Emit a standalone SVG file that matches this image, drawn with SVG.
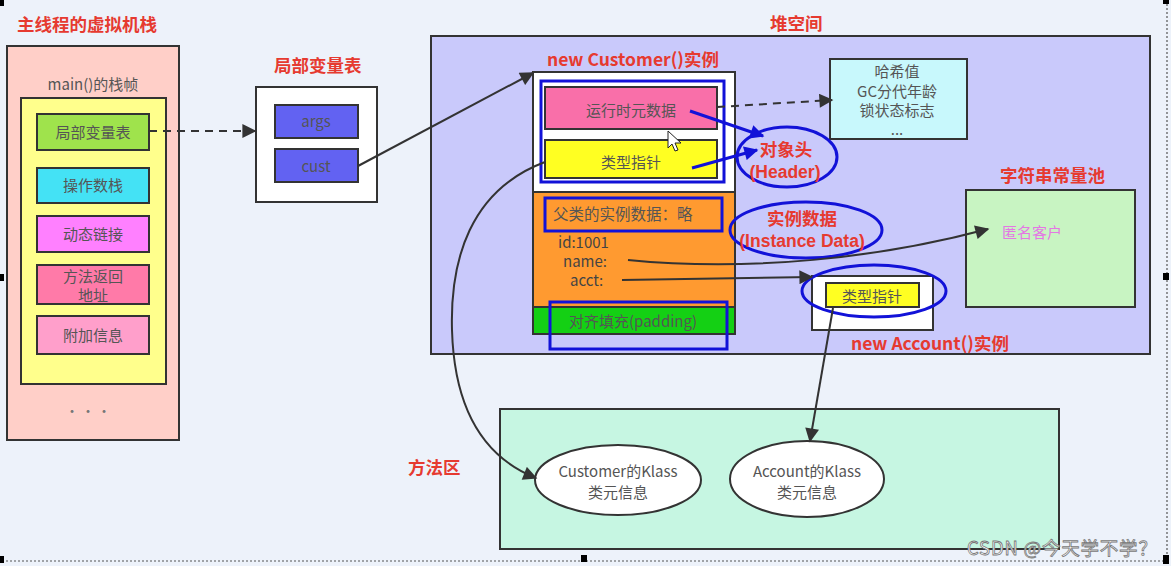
<svg xmlns="http://www.w3.org/2000/svg" width="1171" height="566" viewBox="0 0 1171 566">
<style>
text{font-family:"Noto Sans CJK SC","Noto Sans",sans-serif;}
.title{fill:#e63a30;font-weight:bold;font-size:17.5px;}
.lat{font-family:"Liberation Sans","Noto Sans CJK SC",sans-serif;}
.lbl{fill:#555;font-size:15px;text-anchor:middle;}
.box{stroke:#333;stroke-width:2;}
.blue{fill:none;stroke:#1212d8;stroke-width:3;}
.conn{fill:none;stroke:#333;stroke-width:2;}
.dash{stroke-dasharray:8 6;}
.bconn{fill:none;stroke:#1212d8;stroke-width:3;}
.hdl{fill:#000;}
</style>
<defs>
<marker id="ahl" viewBox="0 0 10 10" refX="9" refY="5" markerWidth="16" markerHeight="14" markerUnits="userSpaceOnUse" orient="auto">
<path d="M0,0 L10,5 L0,10 z" fill="#333"/>
</marker>
<marker id="bah" viewBox="0 0 10 10" refX="9" refY="5" markerWidth="16" markerHeight="14" markerUnits="userSpaceOnUse" orient="auto">
<path d="M0,0 L10,5 L0,10 z" fill="#1212d8"/>
</marker>
</defs>
<rect x="0" y="0" width="1171" height="566" fill="#edf2fa"/>

<!-- screenshot selection frame -->
<g id="frame">
<path d="M1167,0 V561 H0" fill="none" stroke="#555" stroke-width="1.2" stroke-dasharray="2 2"/>
<rect class="hdl" x="0" y="0" width="4" height="6"/>
<rect class="hdl" x="0" y="274" width="4" height="7"/>
<rect class="hdl" x="0" y="556" width="4" height="7"/>
<rect class="hdl" x="581" y="555" width="6" height="7"/>
<rect class="hdl" x="1163" y="555" width="6" height="9"/>
<rect class="hdl" x="1163" y="273" width="6" height="7"/>
<rect class="hdl" x="1163" y="0" width="6" height="4"/>
</g>

<!-- Stack -->
<g id="vm-stack">
<text class="title" x="17" y="31" font-size="18">主线程的虚拟机栈</text>
<rect class="box" x="7" y="46" width="172" height="394" fill="#ffcfc8"/>
<text class="lbl" x="93" y="90" font-size="14" fill="#666">main()的栈帧</text>
<rect class="box" x="21" y="98" width="145" height="286" fill="#ffff8c"/>
<text x="72" y="416" fill="#777" font-size="14" text-anchor="middle">·</text>
<text x="88" y="416" fill="#777" font-size="14" text-anchor="middle">·</text>
<text x="104" y="416" fill="#777" font-size="14" text-anchor="middle">·</text>
</g>
<g id="local-var-item">
<rect class="box" x="37" y="114" width="112" height="36" fill="#9fe34c"/>
<text class="lbl" x="93" y="138">局部变量表</text>
</g>
<g id="operand-stack">
<rect class="box" x="37" y="168" width="112" height="35" fill="#44e2f5"/>
<text class="lbl" x="93" y="191">操作数栈</text>
</g>
<g id="dynamic-link">
<rect class="box" x="37" y="216" width="112" height="36" fill="#ff80ff"/>
<text class="lbl" x="93" y="240">动态链接</text>
</g>
<g id="return-address">
<rect class="box" x="37" y="265" width="112" height="39" fill="#ff7aa8"/>
<text class="lbl" x="93" y="282" font-size="14.5">方法返回</text>
<text class="lbl" x="93" y="301" font-size="14.5">地址</text>
</g>
<g id="extra-info">
<rect class="box" x="37" y="316" width="112" height="38" fill="#ff9fcb"/>
<text class="lbl" x="93" y="341">附加信息</text>
</g>

<!-- Local variable table -->
<g id="local-var-table">
<text class="title" x="274" y="72">局部变量表</text>
<rect class="box" x="256" y="87" width="121" height="115" fill="#ffffff"/>
</g>
<g id="args">
<rect class="box" x="275" y="105" width="83" height="33" fill="#6262f2"/>
<text class="lbl" x="316" y="127" fill="#3c3c8c">args</text>
</g>
<g id="cust">
<rect class="box" x="275" y="149" width="83" height="33" fill="#6262f2"/>
<text class="lbl" x="316" y="172" fill="#3c3c8c">cust</text>
</g>

<!-- Heap -->
<g id="heap">
<text class="title" x="770" y="30">堆空间</text>
<rect class="box" x="431" y="36" width="719" height="318" fill="#c9c9fb"/>
</g>

<g id="customer-instance">
<text class="title" x="547" y="66" font-size="16.5">new Customer()实例</text>
<rect class="box" x="533" y="72" width="202" height="262" fill="#ffffff"/>
<rect x="533" y="192" width="202" height="115" fill="#ff9a30" stroke="#333" stroke-width="2"/>
<rect x="533" y="307" width="202" height="27" fill="#14d014" stroke="#333" stroke-width="2"/>
<rect class="blue" x="541" y="81" width="183" height="101"/>
</g>
<g id="runtime-metadata">
<rect class="box" x="545" y="87" width="172" height="42" fill="#f96fa9"/>
<text class="lbl" x="631" y="116" font-size="16">运行时元数据</text>
</g>
<g id="type-pointer">
<rect class="box" x="545" y="140" width="172" height="38" fill="#ffff22"/>
<text class="lbl" x="631" y="168" font-size="15.5">类型指针</text>
</g>
<g id="parent-data">
<rect class="blue" x="545" y="198" width="177" height="33"/>
<text x="553" y="220" font-size="15.5" fill="#555">父类的实例数据：略</text>
</g>
<g id="fields">
<text x="558" y="248" font-size="15" fill="#444">id:1001</text>
<text x="563" y="267" font-size="15" fill="#444">name:</text>
<text x="570" y="286" font-size="15" fill="#444">acct:</text>
</g>
<g id="padding">
<rect class="blue" x="550" y="302" width="177" height="47"/>
<text x="633" y="327" font-size="15" fill="#555" text-anchor="middle">对齐填充(padding)</text>
</g>

<g id="mark-word">
<rect class="box" x="830" y="59" width="137" height="80" fill="#c8f8fc"/>
<text class="lbl" x="897" y="77" font-size="13">哈希值</text>
<text class="lbl" x="897" y="96.5" font-size="13">GC分代年龄</text>
<text class="lbl" x="897" y="116" font-size="13">锁状态标志</text>
<text class="lbl" x="897" y="135" font-size="13" font-family="Liberation Sans, sans-serif">...</text>
</g>

<g id="header-ellipse">
<ellipse class="blue" cx="787" cy="157" rx="50" ry="30"/>
<text class="title" x="786" y="156" font-size="15.5" text-anchor="middle">对象头</text>
<text class="title lat" x="785" y="178" font-size="17.5" text-anchor="middle">(Header)</text>
</g>

<g id="instance-data-ellipse">
<ellipse class="blue" cx="806" cy="230" rx="76" ry="28"/>
<text class="title" x="802" y="225" font-size="15.5" text-anchor="middle">实例数据</text>
<text class="title lat" x="802" y="247" font-size="17.5" text-anchor="middle">(Instance Data)</text>
</g>

<g id="string-pool">
<text class="title" x="1000" y="182">字符串常量池</text>
<rect class="box" x="966" y="190" width="169" height="117" fill="#c8f4c2"/>
<text x="1002" y="238" font-size="15" fill="#e477e4">匿名客户</text>
</g>

<g id="account-instance">
<rect class="box" x="812" y="276" width="121" height="54" fill="#ffffff"/>
<rect class="box" x="826" y="283" width="93" height="24" fill="#ffff22"/>
<text class="lbl" x="872" y="302" font-size="15">类型指针</text>
<ellipse class="blue" cx="874" cy="291" rx="72" ry="26"/>
<text class="title" x="851" y="350" font-size="16.5">new Account()实例</text>
</g>

<!-- Method area -->
<g id="method-area">
<text class="title" x="408" y="474">方法区</text>
<rect class="box" x="500" y="409" width="559" height="140" fill="#c6f6e2"/>
</g>
<g id="customer-klass">
<ellipse class="box" cx="618" cy="480" rx="83" ry="35" fill="#ffffff"/>
<text class="lbl" x="618" y="477">Customer的Klass</text>
<text class="lbl" x="618" y="498">类元信息</text>
</g>
<g id="account-klass">
<ellipse class="box" cx="807" cy="479" rx="77" ry="38" fill="#ffffff"/>
<text class="lbl" x="807" y="477">Account的Klass</text>
<text class="lbl" x="807" y="498">类元信息</text>
</g>

<!-- Connectors -->
<g id="connectors">
<path class="conn dash" d="M149,131 L255,131" marker-end="url(#ahl)"/>
<path class="conn dash" d="M717,107 L832,100" marker-end="url(#ahl)"/>
<path class="conn" d="M358,166 L533,73" marker-end="url(#ahl)"/>
<path class="conn" d="M545,162 C 470,190 450,260 452,330 C 454,400 478,455 536,478" marker-end="url(#ahl)"/>
<path class="conn" d="M628,260 C 750,272 880,258 988,229" marker-end="url(#ahl)"/>
<path class="conn" d="M622,280 L812,277" marker-end="url(#ahl)"/>
<path class="conn" d="M833,308 L810,441" marker-end="url(#ahl)"/>
<path class="bconn" d="M690,111 L763,136" marker-end="url(#bah)"/>
<path class="bconn" d="M692,168 L757,150" marker-end="url(#bah)"/>
</g>

<!-- mouse cursor -->
<g id="cursor">
<path d="M668,131 L668,148 L672,144 L675,151 L678,150 L675,143 L681,143 z" fill="#ffffff" stroke="#222" stroke-width="1"/>
</g>

<text x="967" y="555" font-size="18.5" letter-spacing="0.8" fill="#ffffff" stroke="#777" stroke-width="0.8">CSDN @今天学不学？</text>
</svg>
